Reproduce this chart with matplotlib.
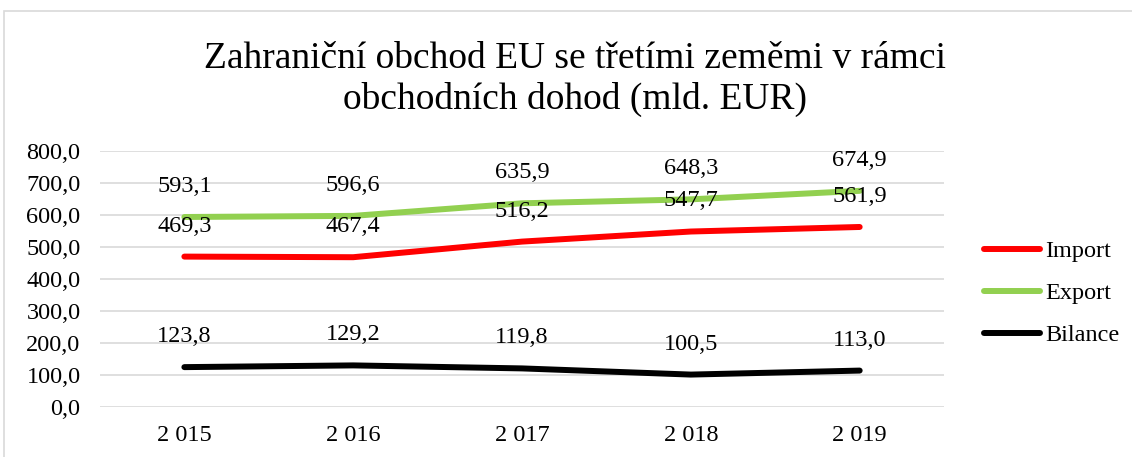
import matplotlib.pyplot as plt
from matplotlib.patches import Rectangle

plt.rcParams['font.family'] = ['Liberation Serif', 'DejaVu Serif']

# data
years = ['2 015', '2 016', '2 017', '2 018', '2 019']
import_vals = [469.3, 467.4, 516.2, 547.7, 561.9]
export_vals = [593.1, 596.6, 635.9, 648.3, 674.9]
bilance_vals = [123.8, 129.2, 119.8, 100.5, 113.0]

series = [
    ('Import', import_vals, '#ff0000'),
    ('Export', export_vals, '#92d050'),
    ('Bilance', bilance_vals, '#000000'),
]

fs = 17.5

fig = plt.figure(figsize=(11.32, 4.57), dpi=100)
ax = fig.add_axes([0.0883, 0.110, 0.7457, 0.560])

x = list(range(len(years)))
for name, vals, col in series:
    ax.plot(x, vals, color=col, linewidth=4.3, solid_capstyle='round', label=name)
    for xi, v in zip(x, vals):
        ax.annotate(f"{v:.1f}".replace('.', ','), (xi, v), xytext=(0, 22),
                    textcoords='offset points', ha='center', va='center', fontsize=fs)

ax.set_xlim(-0.5, 4.5)
ax.set_ylim(0, 800)
ax.set_yticks(range(0, 801, 100))
ax.set_yticklabels([f"{v},0" for v in range(0, 801, 100)])
ax.set_xticks(x)
ax.set_xticklabels(years)
ax.tick_params(axis='y', length=0, pad=14, labelsize=fs)
ax.tick_params(axis='x', length=0, pad=13, labelsize=fs)
ax.grid(axis='y', color='#d9d9d9', linewidth=1.2)
ax.set_axisbelow(True)
for s in ax.spines.values():
    s.set_visible(False)

fig.text(0.508, 0.827, 'Zahraniční obchod EU se třetími zeměmi v rámci\nobchodních dohod (mld. EUR)',
         ha='center', va='center', fontsize=27, linespacing=1.24)

fig.legend(loc='center left', bbox_to_anchor=(0.850, 0.358), frameon=False, fontsize=fs,
           handlelength=2.3, handletextpad=0.2, labelspacing=0.82)

# chart frame
fig.patches.append(Rectangle((4 / 1132, -0.1), 1.2, 1.1 - 11 / 457, transform=fig.transFigure,
                             fill=False, edgecolor='#d9d9d9', linewidth=1.2))

fig.savefig('out.png', dpi=100)
